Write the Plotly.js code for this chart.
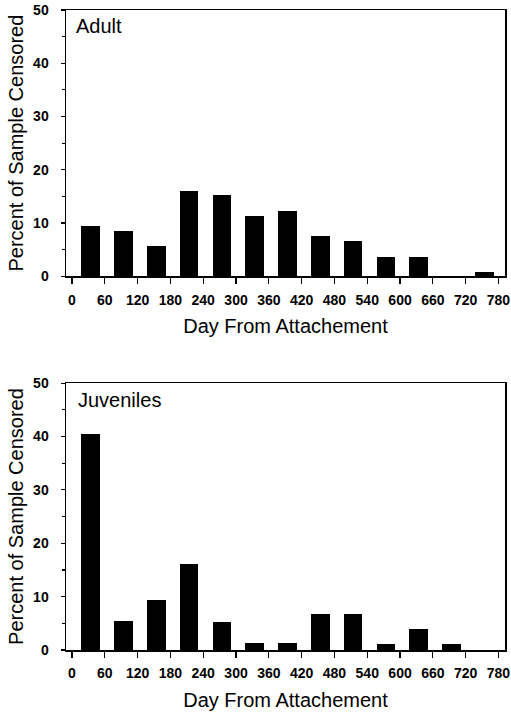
<!DOCTYPE html>
<html>
<head>
<meta charset="utf-8">
<script src="https://cdn.plot.ly/plotly-3.0.1.min.js"></script>
<style>html,body{margin:0;padding:0;background:#fff;}#chart{width:511px;height:713px;}</style>
</head>
<body>
<div id="chart"></div>
<script>
// Day bins (midpoints of 60-day intervals)
const dayBins = [30, 90, 150, 210, 270, 330, 390, 450, 510, 570, 630, 690, 750];
// Percent of sample censored
const adultPct = [9.5, 8.5, 5.6, 16.1, 15.2, 11.3, 12.2, 7.6, 6.6, 3.7, 3.7, 0, 0.8];
const juvenilePct = [40.5, 5.4, 9.4, 16.2, 5.3, 1.3, 1.3, 6.8, 6.7, 1.2, 3.9, 1.2, 0];
// Tick values / labels
const xTickVals = [0, 60, 120, 180, 240, 300, 360, 420, 480, 540, 600, 660, 720, 780];
const xTickText = xTickVals.map(String);
const yTickVals = [0, 10, 20, 30, 40, 50];
const panelLabels = ['Adult', 'Juveniles'];
const xTitle = 'Day From Attachement';
const yTitle = 'Percent of Sample Censored';

const FONT = 'Liberation Sans, Arial, Helvetica, sans-serif';

const barStyle = {type: 'bar', marker: {color: '#000', line: {width: 0}}, width: 34, offset: -13, showlegend: false, hoverinfo: 'x+y'};

const traces = [
  Object.assign({x: dayBins, y: adultPct, xaxis: 'x', yaxis: 'y'}, barStyle),
  Object.assign({x: dayBins, y: juvenilePct, xaxis: 'x2', yaxis: 'y2'}, barStyle)
];

function xAxis(anchor) {
  return {
    anchor: anchor,
    range: [-11, 792],
    tickvals: xTickVals,
    ticktext: xTickText,
    ticks: 'outside', ticklen: 6, tickwidth: 1.2, tickcolor: '#000',
    showline: true, linecolor: '#000', linewidth: 1.5, mirror: true,
    showgrid: false, zeroline: false,
    tickfont: {family: FONT, size: 14, weight: 'bold', color: '#000'},
    ticklabelstandoff: 4,
    title: {text: xTitle, font: {family: FONT, size: 20, color: '#000'}, standoff: 12},
    fixedrange: true
  };
}
function yAxis(anchor, domain) {
  return {
    anchor: anchor,
    domain: domain,
    range: [0, 50],
    tickvals: yTickVals,
    ticks: 'outside', ticklen: 4, tickwidth: 1.2, tickcolor: '#000',
    minor: {dtick: 5, tick0: 0, ticks: 'outside', ticklen: 3, tickwidth: 1.2, tickcolor: '#000', showgrid: false},
    showline: true, linecolor: '#000', linewidth: 1.5, mirror: true,
    showgrid: false, zeroline: false,
    tickfont: {family: FONT, size: 14, weight: 'bold', color: '#000'},
    ticklabelstandoff: 9,
    title: {text: yTitle, font: {family: FONT, size: 20, color: '#000'}, standoff: 4},
    fixedrange: true
  };
}

const layout = {
  width: 511, height: 713,
  margin: {l: 66, r: 6, t: 10, b: 63},
  paper_bgcolor: '#fff', plot_bgcolor: '#fff',
  bargap: 0,
  xaxis: xAxis('y'),
  yaxis: yAxis('x', [0.584, 1]),
  xaxis2: xAxis('y2'),
  yaxis2: yAxis('x2', [0, 0.417]),
  annotations: [
    {text: panelLabels[0], xref: 'paper', yref: 'paper', x: 0.018, y: 0.975, xanchor: 'left', yanchor: 'middle', showarrow: false, font: {family: FONT, size: 20, color: '#000'}},
    {text: panelLabels[1], xref: 'paper', yref: 'paper', x: 0.022, y: 0.39, xanchor: 'left', yanchor: 'middle', showarrow: false, font: {family: FONT, size: 20, color: '#000'}}
  ]
};

Plotly.newPlot('chart', traces, layout, {displayModeBar: false, staticPlot: true});
</script>
</body>
</html>
